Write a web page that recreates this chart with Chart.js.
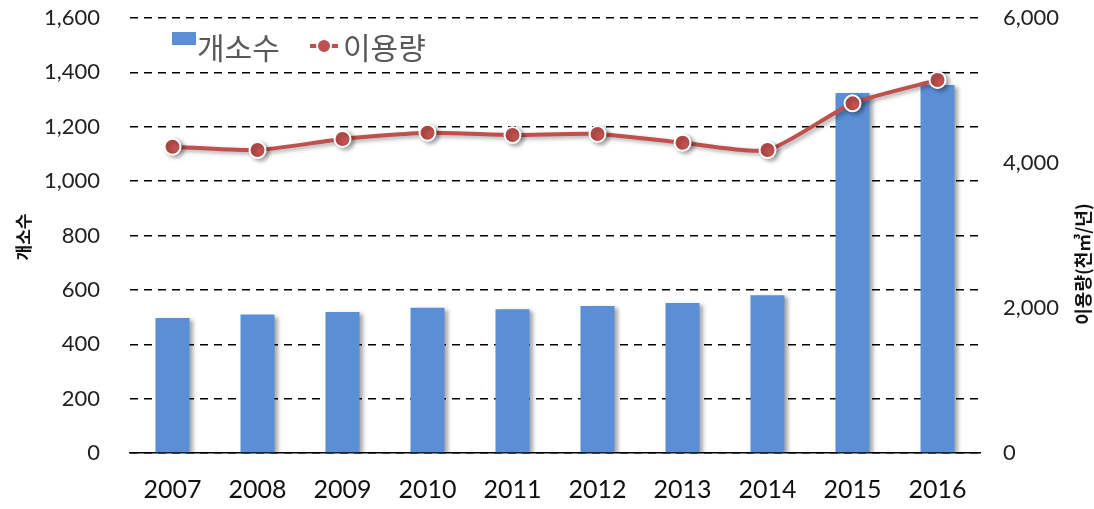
<!DOCTYPE html>
<html><head><meta charset="utf-8">
<script src="https://cdn.jsdelivr.net/npm/chart.js@4.4.1/dist/chart.umd.min.js"></script>
<style>html,body{margin:0;padding:0;background:#fff}#wrap{width:1094px;height:509px}</style>
</head><body><div id="wrap"><canvas id="c" width="1094" height="509"></canvas></div>
<script>
const years = ['2007','2008','2009','2010','2011','2012','2013','2014','2015','2016'];
const countValues = [497, 509, 519, 534, 529, 541, 552, 580, 1324, 1354];
const usageValues = [4225, 4179, 4331, 4418, 4386, 4400, 4280, 4179, 4823, 5145];
const leftTicks = [0, 200, 400, 600, 800, 1000, 1200, 1400, 1600];
const rightTicks = [0, 2000, 4000, 6000];
const barLabel = '개소수';
const lineLabel = '이용량';
const leftTitle = '개소수';
const rightTitle = '이용량(천㎥/년)';

const BAR = '#5a8fd6';
const LINE = '#c0504d';
const FONT = "Lato, 'Noto Sans CJK KR', sans-serif";
const KFONT = "'Noto Sans CJK KR', sans-serif";

const shadowPlugin = {
  id: 'shadow',
  beforeDatasetDraw(chart, args) {
    const ctx = chart.ctx;
    ctx.save();
    ctx.shadowColor = 'rgba(0,0,0,0.35)';
    ctx.shadowBlur = 4;
    ctx.shadowOffsetX = 3;
    ctx.shadowOffsetY = 2;
  },
  afterDatasetDraw(chart) { chart.ctx.restore(); }
};

const extrasPlugin = {
  id: 'extras',
  afterDraw(chart) {
    const ctx = chart.ctx;
    ctx.save();
    ctx.fillStyle = '#111';
    ctx.font = 'bold 17px ' + KFONT;
    ctx.textAlign = 'center';
    ctx.textBaseline = 'middle';
    ctx.save(); ctx.translate(24, 237); ctx.rotate(-Math.PI/2); ctx.fillText(leftTitle, 0, 0); ctx.restore();
    ctx.font = 'bold 18px ' + KFONT;
    ctx.save(); ctx.translate(1083, 264); ctx.rotate(-Math.PI/2); ctx.fillText(rightTitle, 0, 0); ctx.restore();
    // legend
    ctx.fillStyle = BAR;
    ctx.fillRect(172, 32, 24, 13);
    ctx.fillStyle = '#595959';
    ctx.font = '30px ' + KFONT;
    ctx.textAlign = 'left';
    ctx.textBaseline = 'middle';
    ctx.fillText(barLabel, 197, 48);
    ctx.strokeStyle = LINE; ctx.lineWidth = 4;
    ctx.beginPath(); ctx.moveTo(310, 46); ctx.lineTo(338, 46); ctx.stroke();
    ctx.beginPath(); ctx.arc(324, 46, 7, 0, Math.PI*2);
    ctx.fillStyle = LINE; ctx.fill();
    ctx.lineWidth = 2; ctx.strokeStyle = '#fff'; ctx.stroke();
    ctx.fillStyle = '#595959';
    ctx.fillText(lineLabel, 343, 48);
    ctx.restore();
  }
};

new Chart(document.getElementById('c'), {
  data: {
    labels: years,
    datasets: [
      { type: 'line', label: lineLabel, data: usageValues, yAxisID: 'y1', order: 0,
        borderColor: LINE, borderWidth: 4, tension: 0.2,
        pointRadius: 8, pointBackgroundColor: LINE, pointBorderColor: '#fff', pointBorderWidth: 2 },
      { type: 'bar', label: barLabel, data: countValues, yAxisID: 'y', order: 1,
        backgroundColor: BAR, barPercentage: 0.4, categoryPercentage: 1.0 }
    ]
  },
  options: {
    responsive: false,
    animation: false,
    devicePixelRatio: 1,
    layout: { padding: { top: 18, left: 0, right: 0, bottom: 0 } },
    plugins: { legend: { display: false }, tooltip: { enabled: false } },
    scales: {
      x: {
        grid: { display: false, drawTicks: false },
        border: { display: true, color: '#000', width: 1.5 },
        ticks: { color: '#111', font: { family: FONT, size: 25 }, padding: 22, maxRotation: 0 },
        afterFit(s) { s.height = 56; s.paddingLeft = 0; s.paddingRight = 0; }
      },
      y: {
        position: 'left', min: 0, max: 1600,
        afterBuildTicks(s) { s.ticks = leftTicks.map(v => ({ value: v })); },
        grid: { color: '#000', lineWidth: 1.5, drawTicks: false },
        border: { display: false, dash: [8, 6] },
        ticks: { color: '#222', font: { family: FONT, size: 22 }, padding: 30,
                 callback: v => v.toLocaleString('en-US') },
        afterFit(s) { s.width = 130; s.paddingTop = 0; s.paddingBottom = 0; }
      },
      y1: {
        position: 'right', min: 0, max: 6000,
        afterBuildTicks(s) { s.ticks = rightTicks.map(v => ({ value: v })); },
        grid: { display: false, drawTicks: false },
        border: { display: false },
        ticks: { color: '#222', font: { family: FONT, size: 22 }, padding: 23,
                 callback: v => v.toLocaleString('en-US') },
        afterFit(s) { s.width = 114; s.paddingTop = 0; s.paddingBottom = 0; }
      }
    }
  },
  plugins: [shadowPlugin, extrasPlugin]
});
</script></body></html>
